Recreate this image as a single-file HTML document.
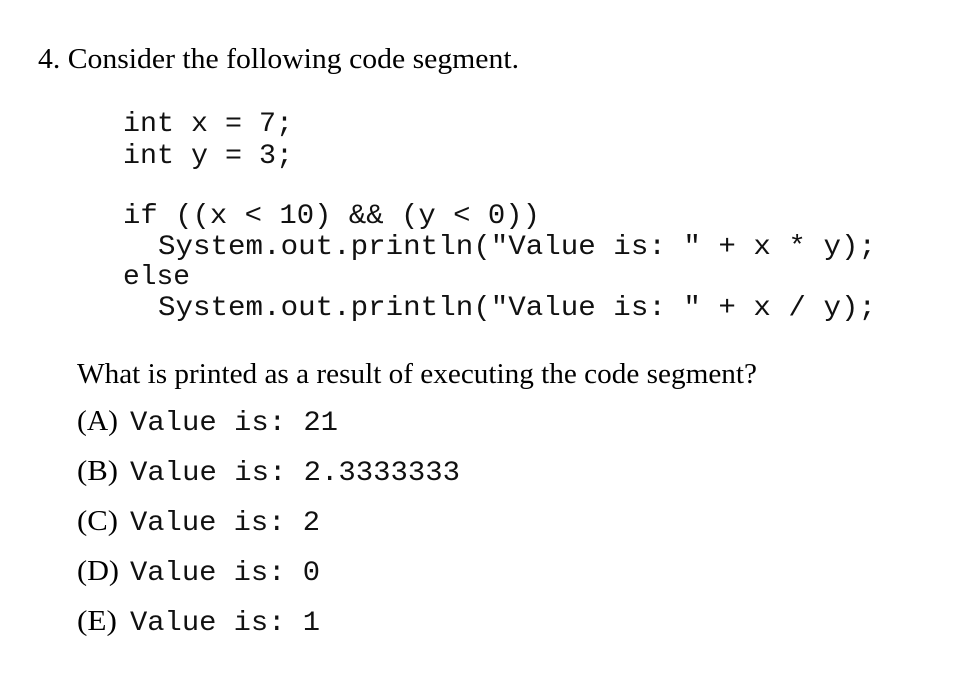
<!DOCTYPE html>
<html><head><meta charset="utf-8"><style>
html,body{margin:0;padding:0;background:#fff;}
svg{display:block}
.s{font-family:"Liberation Serif",serif;font-size:28px;fill:#000}
.m{font-family:"Liberation Mono",monospace;font-size:28px;fill:#111}
</style></head><body>
<svg width="954" height="676" viewBox="0 0 954 676" xmlns="http://www.w3.org/2000/svg">
<rect width="954" height="676" fill="#fff"/>
<text class="s" x="38" y="68" textLength="481" lengthAdjust="spacingAndGlyphs">4.  Consider the following code segment.</text>
<text class="m" x="123" y="131" textLength="170" lengthAdjust="spacingAndGlyphs" xml:space="preserve">int x = 7;</text>
<text class="m" x="123" y="163" textLength="170" lengthAdjust="spacingAndGlyphs" xml:space="preserve">int y = 3;</text>
<text class="m" x="123" y="223" textLength="417" lengthAdjust="spacingAndGlyphs" xml:space="preserve">if ((x &lt; 10) &amp;&amp; (y &lt; 0))</text>
<text class="m" x="158" y="254" textLength="718" lengthAdjust="spacingAndGlyphs" xml:space="preserve">System.out.println("Value is: " + x * y);</text>
<text class="m" x="123" y="284" textLength="67" lengthAdjust="spacingAndGlyphs" xml:space="preserve">else</text>
<text class="m" x="158" y="315" textLength="718" lengthAdjust="spacingAndGlyphs" xml:space="preserve">System.out.println("Value is: " + x / y);</text>
<text class="s" x="77" y="383" textLength="680" lengthAdjust="spacingAndGlyphs">What is printed as a result of executing the code segment?</text>
<text class="s" x="77" y="430" textLength="41" lengthAdjust="spacingAndGlyphs">(A)</text><text class="m" x="130" y="430" textLength="208" lengthAdjust="spacingAndGlyphs" xml:space="preserve">Value is: 21</text>
<text class="s" x="77" y="480" textLength="41" lengthAdjust="spacingAndGlyphs">(B)</text><text class="m" x="130" y="480" textLength="330" lengthAdjust="spacingAndGlyphs" xml:space="preserve">Value is: 2.3333333</text>
<text class="s" x="77" y="530" textLength="41" lengthAdjust="spacingAndGlyphs">(C)</text><text class="m" x="130" y="530" textLength="190" lengthAdjust="spacingAndGlyphs" xml:space="preserve">Value is: 2</text>
<text class="s" x="77" y="580" textLength="42" lengthAdjust="spacingAndGlyphs">(D)</text><text class="m" x="130" y="580" textLength="190" lengthAdjust="spacingAndGlyphs" xml:space="preserve">Value is: 0</text>
<text class="s" x="77" y="630" textLength="40" lengthAdjust="spacingAndGlyphs">(E)</text><text class="m" x="130" y="630" textLength="190" lengthAdjust="spacingAndGlyphs" xml:space="preserve">Value is: 1</text>
</svg>
</body></html>
